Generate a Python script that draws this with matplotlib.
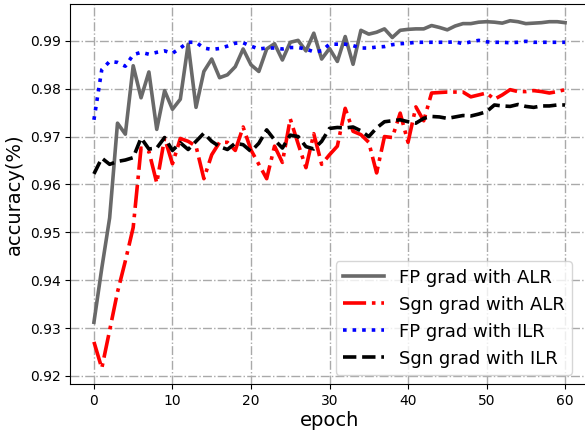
import matplotlib

matplotlib.use("Agg")

import matplotlib.pyplot as plt
import numpy as np

epochs = np.arange(0, 61)

fp_alr = [
    0.9312, 0.9425, 0.9530, 0.9728, 0.9705, 0.9848, 0.9781, 0.9835, 0.9715, 0.9796,
    0.9757, 0.9778, 0.9893, 0.9761, 0.9836, 0.9862, 0.9823, 0.9829, 0.9846, 0.9883,
    0.9850, 0.9836, 0.9883, 0.9894, 0.9860, 0.9897, 0.9901, 0.9879, 0.9916, 0.9862,
    0.9884, 0.9857, 0.9909, 0.9851, 0.9922, 0.9914, 0.9918, 0.9925, 0.9907, 0.9922,
    0.9924, 0.9925, 0.9925, 0.9932, 0.9928, 0.9923, 0.9931, 0.9936, 0.9936, 0.9939,
    0.9940, 0.9939, 0.9937, 0.9942, 0.9940, 0.9936, 0.9937, 0.9938, 0.9940, 0.9940,
    0.9938,
]

sgn_alr = [
    0.9271, 0.9216, 0.9295, 0.9375, 0.9440, 0.9510, 0.9676, 0.9669, 0.9603, 0.9697,
    0.9643, 0.9696, 0.9690, 0.9680, 0.9612, 0.9662, 0.9688, 0.9688, 0.9671, 0.9720,
    0.9672, 0.9642, 0.9612, 0.9680, 0.9646, 0.9737, 0.9685, 0.9635, 0.9706, 0.9642,
    0.9662, 0.9680, 0.9759, 0.9711, 0.9704, 0.9688, 0.9624, 0.9700, 0.9698, 0.9749,
    0.9688, 0.9762, 0.9733, 0.9791, 0.9792, 0.9793, 0.9793, 0.9793, 0.9783, 0.9787,
    0.9791, 0.9778, 0.9787, 0.9798, 0.9794, 0.9794, 0.9796, 0.9794, 0.9791, 0.9794,
    0.9798,
]

fp_ilr = [
    0.9735, 0.9840, 0.9857, 0.9855, 0.9847, 0.9871, 0.9876, 0.9872, 0.9876, 0.9879,
    0.9874, 0.9885, 0.9897, 0.9897, 0.9885, 0.9882, 0.9884, 0.9889, 0.9895, 0.9896,
    0.9889, 0.9883, 0.9885, 0.9885, 0.9883, 0.9886, 0.9886, 0.9883, 0.9877, 0.9879,
    0.9893, 0.9893, 0.9893, 0.9890, 0.9885, 0.9885, 0.9887, 0.9888, 0.9892, 0.9894,
    0.9895, 0.9897, 0.9897, 0.9897, 0.9897, 0.9897, 0.9898, 0.9894, 0.9898, 0.9901,
    0.9898, 0.9897, 0.9897, 0.9896, 0.9897, 0.9899, 0.9897, 0.9897, 0.9897, 0.9897,
    0.9897,
]

sgn_ilr = [
    0.9622, 0.9655, 0.9642, 0.9648, 0.9651, 0.9656, 0.9697, 0.9674, 0.9676, 0.9698,
    0.9671, 0.9687, 0.9673, 0.9690, 0.9707, 0.9690, 0.9679, 0.9673, 0.9686, 0.9683,
    0.9669, 0.9686, 0.9714, 0.9693, 0.9676, 0.9703, 0.9700, 0.9679, 0.9674, 0.9690,
    0.9717, 0.9719, 0.9718, 0.9720, 0.9712, 0.9700, 0.9718, 0.9731, 0.9733, 0.9735,
    0.9731, 0.9728, 0.9738, 0.9742, 0.9741, 0.9738, 0.9741, 0.9744, 0.9743, 0.9747,
    0.9752, 0.9766, 0.9764, 0.9763, 0.9767, 0.9763, 0.9761, 0.9764, 0.9764, 0.9766,
    0.9766,
]

fig = plt.figure(figsize=(5.85, 4.34), dpi=100)
# axes run a little past the right edge, as in the cropped original
ax = fig.add_axes([0.1203, 0.1152, 0.8859, 0.8756])

ax.plot(epochs, fp_alr, color="dimgray", linestyle="-", linewidth=2.6,
        label="FP grad with ALR")
ax.plot(epochs, sgn_alr, color="red", linestyle="-.", linewidth=2.6,
        label="Sgn grad with ALR")
ax.plot(epochs, fp_ilr, color="blue", linestyle=":", linewidth=2.6,
        label="FP grad with ILR")
ax.plot(epochs, sgn_ilr, color="black", linestyle="--", linewidth=2.6,
        label="Sgn grad with ILR")

ax.set_xlim(-3, 63)
ax.set_ylim(0.9183, 0.9977)
ax.set_xticks(np.arange(0, 61, 10))
ax.set_yticks(np.arange(0.92, 0.9901, 0.01))
ax.tick_params(labelsize=10)

ax.grid(True, color="darkgray", linestyle="-.", linewidth=1)
ax.set_axisbelow(True)

ax.set_xlabel("epoch", fontsize=14, labelpad=2)
ax.set_ylabel("accuracy(%)", fontsize=14)

ax.legend(loc="lower right", fontsize=13, handlelength=2.3,
          bbox_to_anchor=(0.985, 0.0))

fig.savefig("out.png", dpi=100)
